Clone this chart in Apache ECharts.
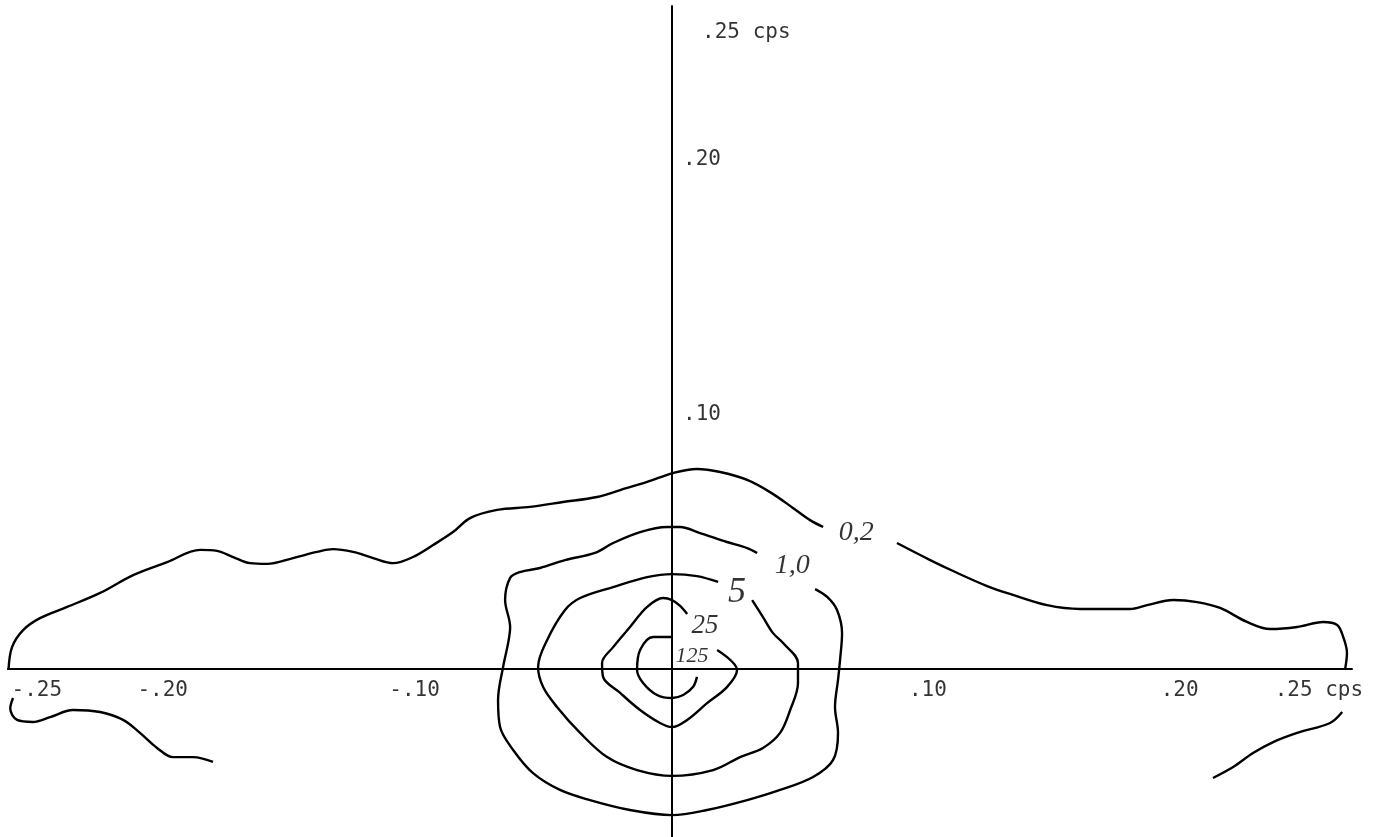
<!DOCTYPE html>
<html><head><meta charset="utf-8">
<script src="https://cdn.jsdelivr.net/npm/echarts@6/dist/echarts.min.js"></script>
<style>html,body{margin:0;padding:0;background:#fff}#c{width:1400px;height:837px}</style>
</head><body><div id="c"></div>
<script>
// All values in thousandths of cps
const xTickValues = [-250, -200, -100, 100, 200, 250];
const xTickLabels = ['-.25', '-.20', '-.10', '.10', '.20', '.25 cps'];
const yTickValues = [100, 200, 250];
const yTickLabels = ['.10', '.20', '.25 cps'];

const contour02UpperA = [[-263.5,-0.4],[-262.1,8.6],[-257.7,15.3],[-251.0,20.0],[-240.2,24.4],[-227.1,29.9],[-214.0,36.9],[-200.5,42.0],[-187.4,46.8],[-180.7,46.4],[-174.3,44.0],[-167.6,41.6],[-160.8,41.3],[-150.5,43.6],[-141.0,46.0],[-134.6,47.1],[-126.7,46.0],[-118.7,43.6],[-110.8,41.6],[-102.9,44.0],[-94.9,48.7],[-87.0,53.8],[-80.2,59.3],[-69.5,62.5],[-56.4,63.7],[-43.3,65.6],[-29.8,67.6],[-20.6,70.3],[-9.9,73.5],[0.4,77.0],[9.9,78.6],[19.1,77.4],[29.8,74.3],[38.9,69.5],[48.0,63.3],[54.8,58.5],[60.0,55.8]];
const contour02UpperB = [[89.3,49.5],[102.5,42.8],[111.6,38.5],[125.1,32.6],[135.4,29.1],[148.9,25.1],[162.0,23.6],[181.9,23.6],[188.6,25.1],[199.0,27.1],[208.5,26.3],[217.6,24.0],[228.3,18.5],[237.5,15.7],[248.2,16.5],[258.5,18.5],[264.1,17.3],[266.5,12.6],[268.0,6.3],[267.2,-0.4]];
const contour02LowerLeft = [[-261.7,-11.4],[-262.8,-15.5],[-260.1,-20.0],[-253.8,-20.8],[-247.0,-18.9],[-237.9,-16.1],[-227.1,-16.9],[-218.0,-20.0],[-211.3,-25.1],[-204.5,-31.0],[-198.2,-34.6],[-190.2,-34.6],[-182.3,-36.5]];
const contour02LowerRight = [[266.1,-16.9],[261.3,-21.2],[248.2,-25.1],[238.7,-28.7],[230.7,-33.0],[222.8,-38.5],[214.8,-42.8]];
const contour10 = [[33.8,45.6],[29.8,47.5],[21.8,49.9],[11.1,53.4],[3.2,55.8],[-2.0,55.8],[-12.7,53.8],[-23.4,49.5],[-30.6,45.6],[-42.5,42.8],[-52.4,39.7],[-60.4,38.1],[-64.3,35.8],[-66.3,27.1],[-64.3,16.5],[-65.1,10.2],[-67.1,0.8],[-69.1,-12.2],[-68.3,-22.8],[-63.1,-31.8],[-55.2,-40.9],[-44.5,-47.5],[-32.6,-51.5],[-16.7,-55.4],[0,-57.4],[13.9,-55.4],[29.8,-51.5],[42.9,-47.5],[56.0,-42.4],[63.9,-35.8],[65.9,-25.1],[64.7,-14.9],[65.9,-4.3],[66.7,3.5],[67.5,14.1],[65.5,23.2],[61.6,28.3],[56.8,31.4]];
const contour5 = [[18.3,34.2],[9.9,36.5],[0,37.3],[-9.9,36.1],[-23.4,32.2],[-36.5,27.9],[-42.5,23.2],[-49.6,11.4],[-53.2,0.8],[-51.2,-7.1],[-45.7,-14.9],[-36.5,-25.1],[-25.8,-34.6],[-13.9,-39.7],[0,-42.0],[16.3,-39.7],[27.0,-34.6],[36.1,-31.0],[42.9,-25.1],[46.9,-16.1],[50.0,-5.5],[50.0,2.4],[44.1,10.2],[40.1,14.1],[36.1,20.4],[31.8,27.1]];
const contour25 = [[17.9,7.5],[25.8,-0.4],[21.8,-7.1],[13.9,-13.4],[6.0,-20.0],[0,-22.8],[-4.8,-21.2],[-12.7,-16.1],[-20.6,-9.4],[-27.4,-3.1],[-27.8,2.4],[-23.4,8.6],[-16.7,16.5],[-9.9,24.4],[-3.6,27.9],[0,27.1],[3.2,24.8],[6.0,21.6]];
const contour125 = [[0,12.6],[-7.5,12.6],[-12.7,7.5],[-13.9,-0.4],[-11.5,-5.5],[-6.0,-10.2],[0,-11.4],[4.4,-10.2],[8.3,-7.1],[9.9,-3.1]];

const contourLabelText = ['0,2', '1,0', '5', '25', '125'];
const contourLabelX = [73.1, 47.7, 25.8, 13.1, 7.9];
const contourLabelY = [53.4, 40.5, 29.9, 16.9, 5.1];

const contourLabelSizes = [28, 28, 36, 27, 22];
const ink = '#000000';

const chart = echarts.init(document.getElementById('c'), null, {renderer: 'canvas'});

function contour(data) {
  return {type: 'line', data: data, smooth: 0.35, showSymbol: false, symbol: 'none',
    lineStyle: {color: ink, width: 2.4}, silent: true, z: 3};
}

const typeFont = {fontFamily: 'DejaVu Sans Mono', fontSize: 21, color: ink, align: 'left', verticalAlign: 'middle'};

const series = [
  contour(contour02UpperA), contour(contour02UpperB), contour(contour02LowerLeft), contour(contour02LowerRight),
  contour(contour10), contour(contour5), contour(contour25), contour(contour125),
  {
    type: 'scatter', symbolSize: 0, silent: true, z: 5,
    data: xTickValues.map((v, i) => ({
      name: xTickLabels[i], value: [v, 0],
      label: {position: [v < 0 ? -31 : (i === xTickValues.length - 1 ? -27 : -15), 22]}
    })),
    label: Object.assign({show: true, formatter: '{b}'}, typeFont)
  },
  {
    type: 'scatter', symbolSize: 0, silent: true, z: 5,
    data: yTickValues.map((v, i) => ({
      name: yTickLabels[i], value: [0, v],
      label: {position: [i === yTickValues.length - 1 ? 30 : 11, 0]}
    })),
    label: Object.assign({show: true, formatter: '{b}'}, typeFont)
  },
  {
    type: 'scatter', symbolSize: 0, silent: true, z: 5,
    data: contourLabelText.map((t, i) => ({
      name: t, value: [contourLabelX[i], contourLabelY[i]],
      label: {fontSize: contourLabelSizes[i]}
    })),
    label: {show: true, formatter: '{b}', position: 'inside', fontFamily: 'Liberation Serif',
      fontStyle: 'italic', color: ink, align: 'center', verticalAlign: 'middle'}
  }
];

chart.setOption({
  animation: false,
  backgroundColor: '#ffffff',
  grid: {left: 8, right: 48, top: 6, bottom: 0, containLabel: false, outerBoundsMode: 'none'},
  xAxis: {type: 'value', min: -263.7, max: 270.0,
    axisLine: {show: true, onZero: true, lineStyle: {color: ink, width: 2}},
    axisTick: {show: false}, axisLabel: {show: false}, splitLine: {show: false}},
  yAxis: {type: 'value', min: -66.0, max: 260.5,
    axisLine: {show: true, onZero: true, lineStyle: {color: ink, width: 2}},
    axisTick: {show: false}, axisLabel: {show: false}, splitLine: {show: false}},
  series: series
});
</script>
</body></html>
